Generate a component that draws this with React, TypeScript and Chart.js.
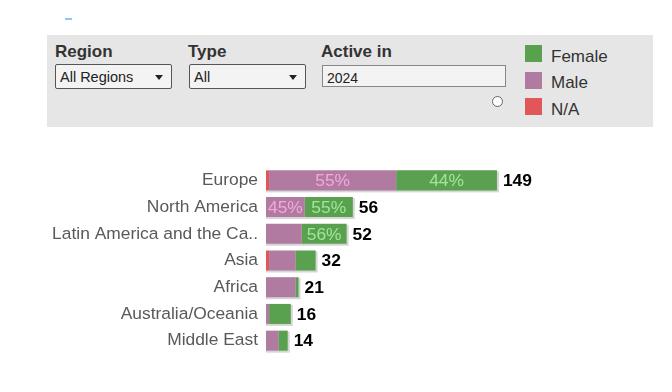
import React, { useEffect, useRef } from "react";
import { Chart, registerables } from "chart.js";

Chart.register(...registerables);

const categories = [
  "Europe",
  "North America",
  "Latin America and the Ca..",
  "Asia",
  "Africa",
  "Australia/Oceania",
  "Middle East",
];
const naValues = [2, 0, 0, 2, 0, 0, 0];
const maleValues = [82, 25, 23, 17, 19, 2, 8];
const femaleValues = [65, 31, 29, 13, 2, 14, 6];
const legendItems = ["Female", "Male", "N/A"];

const COLORS = { Female: "#59a14f", Male: "#b07aa1", "N/A": "#e15759" };
const FONT = "'Liberation Sans', Arial, sans-serif";

const totals = categories.map((_, i) => naValues[i] + maleValues[i] + femaleValues[i]);

const labelsPlugin = {
  id: "labelsPlugin",
  beforeDatasetsDraw(chart: any) {
    const ctx = chart.ctx;
    const xs = chart.scales.x;
    const lastMeta = chart.getDatasetMeta(2);
    ctx.save();
    ctx.fillStyle = "#d6d6d6";
    lastMeta.data.forEach((el: any, i: number) => {
      const x0 = xs.getPixelForValue(0);
      const x1 = xs.getPixelForValue(totals[i]);
      const h = el.height;
      ctx.fillRect(x0, el.y - h / 2 + 1, x1 - x0 + 2, h + 1);
    });
    ctx.restore();
  },
  afterDatasetsDraw(chart: any) {
    const ctx = chart.ctx;
    const xs = chart.scales.x;
    ctx.save();
    ctx.textBaseline = "middle";
    const pctColors = ["", "#f7a6dc", "#a0e69a"];
    [1, 2].forEach((di) => {
      const meta = chart.getDatasetMeta(di);
      const vals = chart.data.datasets[di].data as number[];
      meta.data.forEach((el: any, i: number) => {
        const v = vals[i];
        if (v < 25) return;
        const pct = Math.round((v / totals[i]) * 100);
        ctx.font = `17.4px ${FONT}`;
        ctx.fillStyle = pctColors[di];
        ctx.textAlign = "center";
        ctx.fillText(pct + "%", (el.x + el.base) / 2, el.y + 1);
      });
    });
    const lastMeta = chart.getDatasetMeta(2);
    lastMeta.data.forEach((el: any, i: number) => {
      ctx.font = `bold 17.4px ${FONT}`;
      ctx.fillStyle = "#000";
      ctx.textAlign = "left";
      ctx.fillText(String(totals[i]), xs.getPixelForValue(totals[i]) + 6, el.y + 1);
    });
    ctx.restore();
  },
};

function BarChart() {
  const ref = useRef<HTMLCanvasElement>(null);
  useEffect(() => {
    if (!ref.current) return;
    const chart = new Chart(ref.current, {
      type: "bar",
      data: {
        labels: categories,
        datasets: [
          { label: "N/A", data: naValues, backgroundColor: COLORS["N/A"] },
          { label: "Male", data: maleValues, backgroundColor: COLORS.Male },
          { label: "Female", data: femaleValues, backgroundColor: COLORS.Female },
        ],
      },
      options: {
        indexAxis: "y",
        animation: false,
        responsive: true,
        maintainAspectRatio: false,
        devicePixelRatio: 1,
        layout: { padding: 0 },
        datasets: { bar: { barPercentage: 0.75, categoryPercentage: 1, borderWidth: 0 } },
        plugins: { legend: { display: false }, tooltip: { enabled: false } },
        scales: {
          x: { stacked: true, min: 0, max: 200, display: false },
          y: {
            stacked: true,
            grid: { display: false, drawTicks: false },
            border: { display: false },
            afterFit: (scale: any) => {
              scale.width = 216;
              scale.paddingTop = 0;
              scale.paddingBottom = 0;
            },
            ticks: {
              autoSkip: false,
              padding: 8,
              color: "#595959",
              font: { family: FONT, size: 17.4 },
            },
          },
        },
      },
      plugins: [labelsPlugin],
    });
    return () => chart.destroy();
  }, []);
  return (
    <div style={{ position: "absolute", left: 50, top: 167, width: 526, height: 187 }}>
      <div style={{ position: "absolute", left: 2, top: 0, width: 524, height: 187, overflow: "hidden" }}>
        <div style={{ position: "absolute", left: -2, top: 0, width: 526, height: 187 }}>
          <canvas ref={ref} />
        </div>
      </div>
    </div>
  );
}

const label = (text: string, left: number) => (
  <div
    style={{
      position: "absolute",
      left,
      top: 43,
      fontFamily: FONT,
      fontWeight: "bold",
      fontSize: 17,
      lineHeight: "17px",
      color: "#333",
      whiteSpace: "nowrap",
    }}
  >
    {text}
  </div>
);

const selectBox = (text: string, left: number, width: number) => (
  <div
    style={{
      position: "absolute",
      left,
      top: 64,
      width: width - 2,
      height: 23,
      border: "1px solid #555",
      borderRadius: 2,
      background: "#f3f3f3",
    }}
  >
    <div
      style={{
        position: "absolute",
        left: 4,
        top: 5,
        fontFamily: FONT,
        fontSize: 14.5,
        lineHeight: "14.5px",
        color: "#222",
        whiteSpace: "nowrap",
      }}
    >
      {text}
    </div>
    <div
      style={{
        position: "absolute",
        right: 8,
        top: 10,
        width: 0,
        height: 0,
        borderLeft: "4px solid transparent",
        borderRight: "4px solid transparent",
        borderTop: "5px solid #222",
      }}
    />
  </div>
);

export default function App() {
  return (
    <div
      style={{
        position: "absolute",
        left: 0,
        top: 0,
        width: 672,
        height: 392,
        background: "#fff",
        overflow: "hidden",
      }}
    >
      <div style={{ position: "absolute", left: 65, top: 18, width: 7, height: 2, background: "#8ec5ff" }} />
      <div style={{ position: "absolute", left: 47, top: 35, width: 606, height: 92, background: "#e6e6e6" }} />
      {label("Region", 55)}
      {label("Type", 188)}
      {label("Active in", 321)}
      {selectBox("All Regions", 55, 117)}
      {selectBox("All", 189, 117)}
      <div
        style={{
          position: "absolute",
          left: 322,
          top: 65,
          width: 182,
          height: 20,
          border: "1px solid #888",
          background: "#f3f3f3",
        }}
      >
        <div
          style={{
            position: "absolute",
            left: 4,
            top: 5,
            fontFamily: FONT,
            fontSize: 14,
            lineHeight: "14px",
            color: "#222",
          }}
        >
          2024
        </div>
      </div>
      <div
        style={{
          position: "absolute",
          left: 492,
          top: 96,
          width: 9,
          height: 9,
          borderRadius: "50%",
          border: "1px solid #666",
          background: "#fff",
        }}
      />
      {legendItems.map((name, i) => (
        <React.Fragment key={name}>
          <div
            style={{
              position: "absolute",
              left: 525,
              top: 45 + i * 26.7,
              width: 17,
              height: 17,
              background: (COLORS as any)[name],
            }}
          />
          <div
            style={{
              position: "absolute",
              left: 551,
              top: 47.5 + i * 26.7,
              fontFamily: FONT,
              fontSize: 17,
              lineHeight: "17px",
              color: "#333",
              whiteSpace: "nowrap",
            }}
          >
            {name}
          </div>
        </React.Fragment>
      ))}
      <BarChart />
    </div>
  );
}
